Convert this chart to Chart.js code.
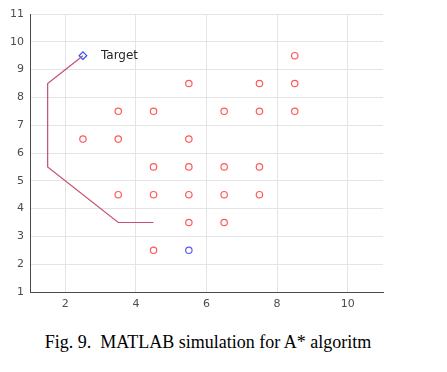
<!DOCTYPE html>
<html>
<head>
<meta charset="utf-8">
<script src="https://cdn.jsdelivr.net/npm/chart.js@4/dist/chart.umd.min.js"></script>
<style>
  html, body { margin: 0; padding: 0; background: #fff; }
  #wrap { position: relative; width: 447px; height: 372px; }
  #c { position: absolute; left: 0; top: 0; }
  #cap { position: absolute; left: 0; top: 332px; width: 416px; text-align: center;
         font-family: "Liberation Serif", "Times New Roman", serif; font-size: 18px; color: #000; white-space: pre; }
</style>
</head>
<body>
<div id="wrap">
  <canvas id="c" width="447" height="310"></canvas>
  <div id="cap">Fig. 9.  MATLAB simulation for A* algoritm</div>
</div>
<script>
// ---- data ----
const obstacleX = [8.5, 5.5, 7.5, 8.5, 3.5, 4.5, 6.5, 7.5, 8.5, 2.5, 3.5, 5.5, 4.5, 5.5, 6.5, 7.5, 3.5, 4.5, 5.5, 6.5, 7.5, 5.5, 6.5, 4.5];
const obstacleY = [9.5, 8.5, 8.5, 8.5, 7.5, 7.5, 7.5, 7.5, 7.5, 6.5, 6.5, 6.5, 5.5, 5.5, 5.5, 5.5, 4.5, 4.5, 4.5, 4.5, 4.5, 3.5, 3.5, 2.5];
const pathX = [4.5, 3.5, 1.5, 1.5, 2.5];
const pathY = [3.5, 3.5, 5.5, 8.5, 9.5];
const startX = [5.5];
const startY = [2.5];
const targetX = [2.5];
const targetY = [9.5];
const targetLabel = "Target";
const xTicks = [2, 4, 6, 8, 10];
const yTicks = [1, 2, 3, 4, 5, 6, 7, 8, 9, 10, 11];

const zip = (xs, ys) => xs.map((x, i) => ({ x: x, y: ys[i] }));

const labelPlugin = {
  id: 'targetLabel',
  afterDatasetsDraw(chart) {
    const ctx = chart.ctx;
    const xs = chart.scales.x, ys = chart.scales.y;
    ctx.save();
    ctx.font = '12px "DejaVu Sans", sans-serif';
    ctx.fillStyle = '#262626';
    ctx.textAlign = 'left';
    ctx.textBaseline = 'middle';
    ctx.fillText(targetLabel, xs.getPixelForValue(targetX[0]) + 18, ys.getPixelForValue(targetY[0]));
    ctx.restore();
  }
};

new Chart(document.getElementById('c'), {
  type: 'scatter',
  data: {
    datasets: [
      {
        label: 'path', data: zip(pathX, pathY), showLine: true,
        borderColor: '#c4506c', borderWidth: 1.2, pointRadius: 0, fill: false, tension: 0
      },
      {
        label: 'obstacles', data: zip(obstacleX, obstacleY), pointStyle: 'circle',
        pointRadius: 3.2, borderColor: '#ff5a5a', backgroundColor: 'rgba(0,0,0,0)', borderWidth: 1.2
      },
      {
        label: 'start', data: zip(startX, startY), pointStyle: 'circle',
        pointRadius: 3.2, borderColor: '#5a5aff', backgroundColor: 'rgba(0,0,0,0)', borderWidth: 1.2
      },
      {
        label: 'target', data: zip(targetX, targetY), pointStyle: 'rectRot',
        pointRadius: 3.8, borderColor: '#2a4cff', backgroundColor: 'rgba(0,0,0,0)', borderWidth: 1.2
      }
    ]
  },
  options: {
    responsive: false,
    animation: false,
    events: [],
    layout: { padding: { top: 14, right: 64, left: 0, bottom: 0 } },
    plugins: { legend: { display: false }, tooltip: { enabled: false } },
    scales: {
      x: {
        type: 'linear', min: 1, max: 11,
        afterBuildTicks: s => { s.ticks = xTicks.map(v => ({ value: v })); },
        afterFit: s => { s.height = 18; },
        grid: { color: '#e4e4e4', drawTicks: false },
        border: { color: '#4a4a4a', width: 1 },
        ticks: { padding: 6, color: '#4d4d4d', font: { family: 'DejaVu Sans', size: 11 }, maxRotation: 0 }
      },
      y: {
        type: 'linear', min: 1, max: 11,
        afterBuildTicks: s => { s.ticks = yTicks.map(v => ({ value: v })); },
        afterFit: s => { s.width = 30; },
        grid: { color: '#e4e4e4', drawTicks: false },
        border: { color: '#4a4a4a', width: 1 },
        ticks: { padding: 6, color: '#4d4d4d', font: { family: 'DejaVu Sans', size: 11 } }
      }
    }
  },
  plugins: [labelPlugin]
});
</script>
</body>
</html>
